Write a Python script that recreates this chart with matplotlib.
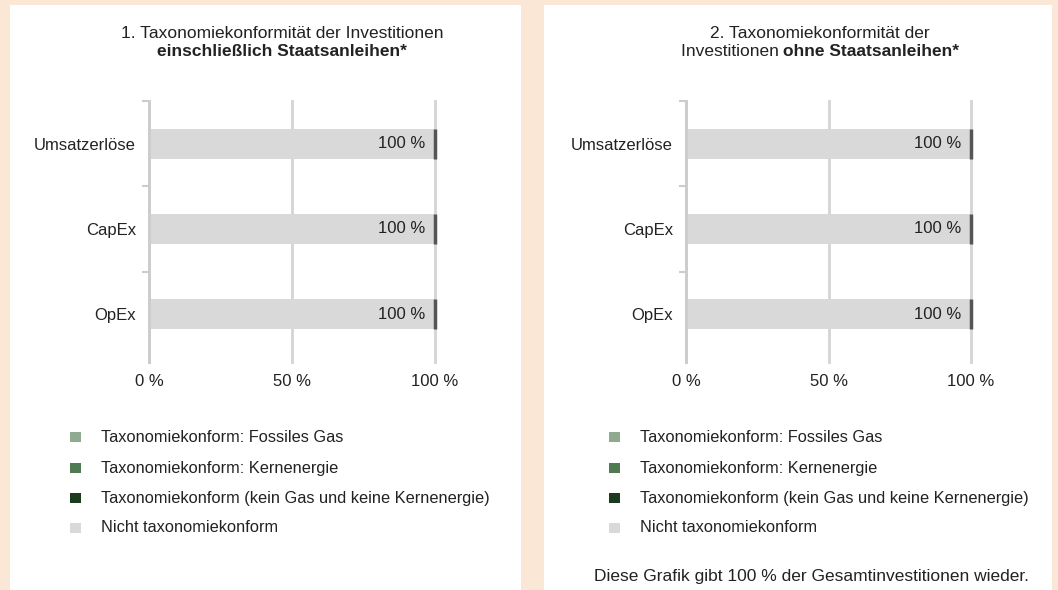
import matplotlib
matplotlib.use("Agg")
import matplotlib.pyplot as plt
from matplotlib.patches import Rectangle
import numpy as np

plt.rcParams['font.family'] = ['Liberation Sans', 'DejaVu Sans']

categories = ["Umsatzerlöse", "CapEx", "OpEx"]
series_names = ["Taxonomiekonform: Fossiles Gas",
                "Taxonomiekonform: Kernenergie",
                "Taxonomiekonform (kein Gas und keine Kernenergie)",
                "Nicht taxonomiekonform"]
series_colors = ["#8fab8f", "#4f7a52", "#1c3a1e", "#d9d9d9"]
# values per series for [Umsatzerlöse, CapEx, OpEx]
left_values = {
    "Taxonomiekonform: Fossiles Gas": [0, 0, 0],
    "Taxonomiekonform: Kernenergie": [0, 0, 0],
    "Taxonomiekonform (kein Gas und keine Kernenergie)": [0, 0, 0],
    "Nicht taxonomiekonform": [100, 100, 100],
}
right_values = {
    "Taxonomiekonform: Fossiles Gas": [0, 0, 0],
    "Taxonomiekonform: Kernenergie": [0, 0, 0],
    "Taxonomiekonform (kein Gas und keine Kernenergie)": [0, 0, 0],
    "Nicht taxonomiekonform": [100, 100, 100],
}
bar_labels = ["100 %", "100 %", "100 %"]
x_ticks = [0, 50, 100]
x_ticklabels = ["0 %", "50 %", "100 %"]
footnote = "Diese Grafik gibt 100 % der Gesamtinvestitionen wieder."

W, H = 1058, 590
fig = plt.figure(figsize=(W / 100, H / 100), dpi=100)
fig.patch.set_facecolor("#fae7d6")

def fx(px):
    return px / W

def fy(py):
    return 1 - py / H

# white panels
for x0, x1 in [(10, 521), (544, 1052)]:
    fig.patches.append(Rectangle((fx(x0), 0), fx(x1 - x0), fy(5),
                                 transform=fig.transFigure, facecolor="white",
                                 edgecolor="none", zorder=-5))

FS = 12.5
TICK_FS = 12.0
LEG_FS = 11.75
TXT = "#222222"

AX_TOP, AX_BOT = 101, 362

def draw_panel(x0px, x1px, values):
    ax = fig.add_axes([fx(x0px), fy(AX_BOT), fx(x1px - x0px), (AX_BOT - AX_TOP) / H])
    ax.set_facecolor("none")
    ax.set_zorder(1)
    y = np.arange(len(categories))
    left = np.zeros(len(categories))
    for name, col in zip(series_names, series_colors):
        v = np.array(values[name], dtype=float)
        ax.barh(y, v, left=left, height=0.35, color=col, zorder=2)
        left = left + v
    # dark end marker at stack end
    ax.vlines(left, y - 0.175, y + 0.175, colors="#555555", linewidth=2.5, zorder=3,
              clip_on=False)
    for yi, tot, lab in zip(y, left, bar_labels):
        ax.text(tot - 3.5, yi, lab, ha="right", va="center", fontsize=TICK_FS, color=TXT, zorder=4)
    ax.set_xlim(0, 100)
    ax.set_ylim(2.56, -0.5)
    ax.set_xticks(x_ticks)
    ax.set_xticklabels(x_ticklabels, fontsize=TICK_FS, color=TXT)
    ax.set_yticks(y)
    ax.set_yticklabels(categories, fontsize=TICK_FS, color=TXT)
    ax.set_yticks([-0.5, 0.5, 1.5], minor=True)
    ax.tick_params(axis="y", which="major", length=0, pad=9.5)
    ax.tick_params(axis="y", which="minor", length=5, width=1.5, color="#cccccc")
    ax.tick_params(axis="x", length=0, pad=9)
    for s in ["top", "right", "bottom"]:
        ax.spines[s].set_visible(False)
    ax.spines["left"].set_color("#cccccc")
    ax.spines["left"].set_linewidth(2)
    ax.grid(axis="x", color="#d4d4d4", linewidth=2, zorder=1)
    for gl in ax.get_xgridlines():
        gl.set_clip_on(False)
    ax.set_axisbelow(True)
    return ax

axL = draw_panel(149, 435, left_values)
axR = draw_panel(686, 971, right_values)

# titles
fig.text(fx(282), fy(33), "1. Taxonomiekonformität der Investitionen", ha="center",
         va="center", fontsize=FS, color=TXT)
fig.text(fx(282), fy(51), "einschließlich Staatsanleihen*", ha="center", va="center",
         fontsize=FS, color=TXT, fontweight="bold")

fig.text(fx(820), fy(33), "2. Taxonomiekonformität der", ha="center", va="center",
         fontsize=FS, color=TXT)
# mixed line: regular + bold, centred as a whole
renderer = fig.canvas.get_renderer()
t1 = fig.text(0, fy(51), "Investitionen ", ha="left", va="center", fontsize=FS, color=TXT)
t2 = fig.text(0, fy(51), "ohne Staatsanleihen*", ha="left", va="center", fontsize=FS,
              color=TXT, fontweight="bold")
w1 = t1.get_window_extent(renderer).width
w2 = t2.get_window_extent(renderer).width
start = 820 - (w1 + w2) / 2
t1.set_x(fx(start))
t2.set_x(fx(start + w1))

# legends
legend_rows = [437, 468, 498, 528]
for sq_x, tx_x in [(75, 101), (614, 640)]:
    for name, col, ry in zip(series_names, series_colors, legend_rows):
        fig.patches.append(Rectangle((fx(sq_x - 5), fy(ry + 5)), fx(11), 10 / H,
                                     transform=fig.transFigure, facecolor=col,
                                     edgecolor="none", zorder=2))
        fig.text(fx(tx_x), fy(ry), name, ha="left", va="center", fontsize=LEG_FS, color=TXT)

fig.text(fx(812), fy(577), footnote, ha="center", va="center", fontsize=FS, color=TXT)

fig.savefig("out.png", dpi=100, facecolor=fig.get_facecolor())
